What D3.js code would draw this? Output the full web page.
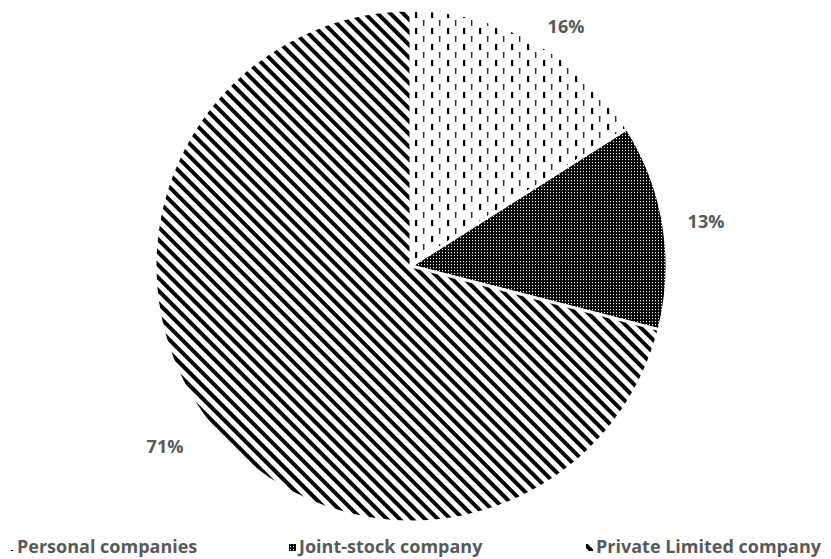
<!DOCTYPE html>
<html><head><meta charset="utf-8">
<script src="https://cdn.jsdelivr.net/npm/d3@7"></script>
<style>body{margin:0;background:#fff}svg{display:block}</style>
</head><body>
<script>
const categories = ["Personal companies", "Joint-stock company", "Private Limited company"];
const values = [16, 13, 71];
const labels = ["16%", "13%", "71%"];
const patternIds = ["pDots", "pCheck", "pStripe"];

const W = 831, H = 559;
const svg = d3.select("body").append("svg").attr("width", W).attr("height", H);
const defs = svg.append("defs");

// dotted vertical dashes
const p1 = defs.append("pattern").attr("id", "pDots").attr("patternUnits", "userSpaceOnUse")
  .attr("width", 16).attr("height", 16);
p1.append("rect").attr("width", 16).attr("height", 16).attr("fill", "#fff");
p1.append("rect").attr("x", 4).attr("y", 2).attr("width", 2.2).attr("height", 6).attr("fill", "#000");
p1.append("rect").attr("x", 12).attr("y", 10).attr("width", 1.4).attr("height", 6).attr("fill", "#222");

// dense checker
const p2 = defs.append("pattern").attr("id", "pCheck").attr("patternUnits", "userSpaceOnUse")
  .attr("width", 3).attr("height", 3);
p2.append("rect").attr("width", 3).attr("height", 3).attr("fill", "#000");
p2.append("rect").attr("x", 1).attr("y", 1).attr("width", 1).attr("height", 1.2).attr("fill", "#fff");

// diagonal stripes (\ direction)
const p3 = defs.append("pattern").attr("id", "pStripe").attr("patternUnits", "userSpaceOnUse")
  .attr("width", 9).attr("height", 9).attr("patternTransform", "rotate(-45)");
p3.append("rect").attr("width", 9).attr("height", 9).attr("fill", "#fff");
p3.append("rect").attr("x", 0).attr("y", 0).attr("width", 4).attr("height", 9).attr("fill", "#000");

const cx = 411, cy = 266, r = 256;
const pie = d3.pie().sort(null).value(d => d)(values);
const arc = d3.arc().innerRadius(0).outerRadius(r);
const g = svg.append("g").attr("transform", `translate(${cx},${cy})`);
g.selectAll("path").data(pie).join("path")
  .attr("d", arc)
  .attr("fill", (d, i) => `url(#${patternIds[i]})`)
  .attr("stroke", "#fff").attr("stroke-width", 3).attr("stroke-linejoin", "round");

// data labels
const labelPos = [[566, 28], [706, 223], [165, 448]];
svg.selectAll("text.lbl").data(pie).join("text").attr("class", "lbl")
  .attr("x", (d, i) => labelPos[i][0]).attr("y", (d, i) => labelPos[i][1])
  .attr("text-anchor", "middle").attr("dominant-baseline", "middle")
  .attr("font-family", "'Open Sans', sans-serif").attr("font-weight", "bold")
  .attr("font-size", 18).attr("fill", "#595959")
  .text((d, i) => labels[i]);

// legend
const legX = [7, 289, 586];
const lg = svg.selectAll("g.leg").data(categories).join("g").attr("class", "leg")
  .attr("transform", (d, i) => `translate(${legX[i]},548)`);
lg.append("rect").attr("x", 0).attr("y", -4).attr("width", 7).attr("height", 7)
  .attr("fill", (d, i) => `url(#${patternIds[i]})`);
lg.append("text").attr("x", 10).attr("y", 0).attr("dominant-baseline", "middle")
  .attr("font-family", "'Open Sans', sans-serif").attr("font-weight", "bold")
  .attr("font-size", 18).attr("fill", "#595959").text(d => d);
</script>
</body></html>
